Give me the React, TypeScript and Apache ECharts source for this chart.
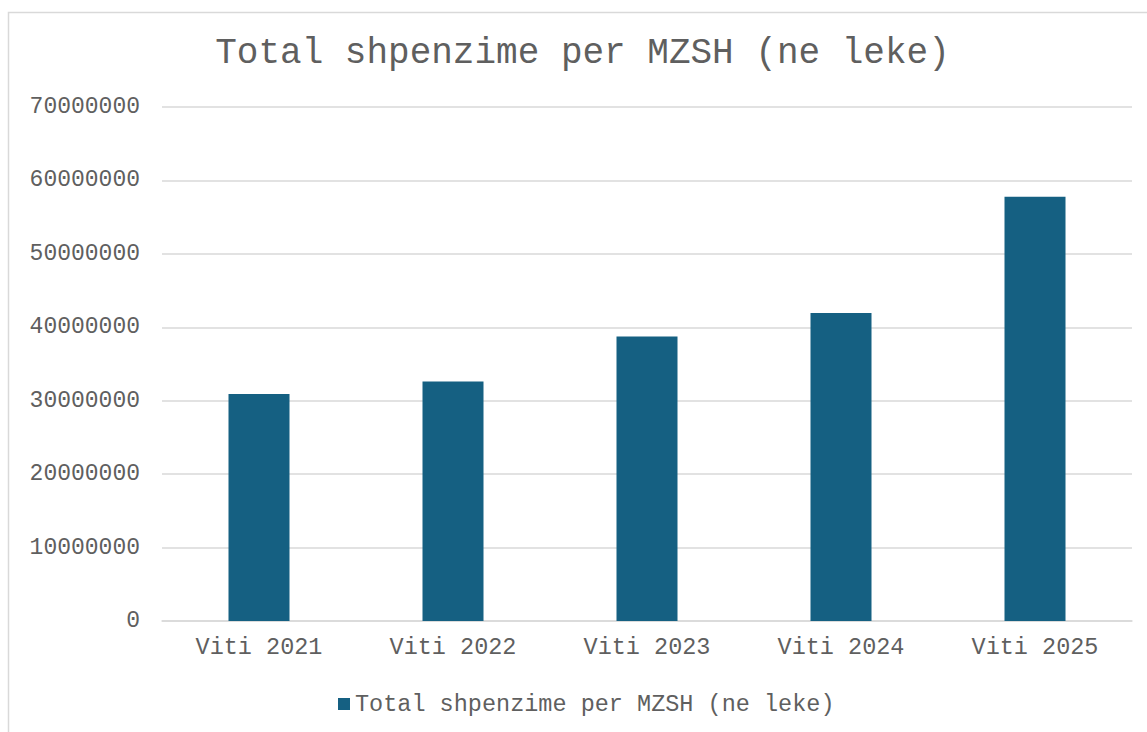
import React, { useEffect, useRef } from "react";
import * as echarts from "echarts";

const TITLE = "Total shpenzime per MZSH (ne leke)";
const SERIES_NAME = "Total shpenzime per MZSH (ne leke)";
const categories = ["Viti 2021", "Viti 2022", "Viti 2023", "Viti 2024", "Viti 2025"];
const values = [30900000, 32600000, 38730000, 41950000, 57770000];
const yTicks = { min: 0, max: 70000000, interval: 10000000 };

const FONT = "'Liberation Mono', 'DejaVu Sans Mono', monospace";
const TEXT = "#5f5f5f";
const GRID = "#d9d9d9";
const BAR = "#156082";

export default function App() {
  const ref = useRef<HTMLDivElement>(null);
  useEffect(() => {
    if (!ref.current) return;
    const chart = echarts.init(ref.current, undefined, { renderer: "svg" });
    chart.setOption({
      animation: false,
      backgroundColor: "#ffffff",
      textStyle: { fontFamily: FONT },
      graphic: [
        {
          type: "rect",
          shape: { x: 8.5, y: 12.5, width: 1300, height: 900 },
          style: { fill: "none", stroke: GRID, lineWidth: 1.5 },
          silent: true,
          z: -10,
        },
        {
          type: "text",
          x: 582.5,
          y: 53,
          style: {
            text: TITLE,
            font: `36px ${FONT}`,
            fill: TEXT,
            align: "center",
            verticalAlign: "middle",
          },
        },
      ],
      grid: { left: 162, right: 15, top: 107, bottom: 111, containLabel: false },
      legend: {
        data: [SERIES_NAME],
        left: 333,
        top: 687,
        itemWidth: 12,
        itemHeight: 12,
        icon: "rect",
        textStyle: { fontFamily: FONT, fontSize: 23.5, color: TEXT },
      },
      xAxis: {
        type: "category",
        data: categories,
        axisLine: { show: true, lineStyle: { color: GRID, width: 1.5 } },
        axisTick: { show: false },
        axisLabel: { color: TEXT, fontFamily: FONT, fontSize: 23.5, margin: 14 },
      },
      yAxis: {
        type: "value",
        min: yTicks.min,
        max: yTicks.max,
        interval: yTicks.interval,
        axisLine: { show: false },
        axisTick: { show: false },
        splitLine: { lineStyle: { color: GRID, width: 1.5 } },
        axisLabel: {
          color: TEXT,
          fontFamily: FONT,
          fontSize: 23,
          margin: 22,
          formatter: (v: number) => String(v),
        },
      },
      series: [
        {
          name: SERIES_NAME,
          type: "bar",
          data: values,
          barWidth: 61,
          itemStyle: { color: BAR },
        },
      ],
    });
    return () => chart.dispose();
  }, []);
  return (
    <div
      ref={ref}
      style={{ position: "absolute", left: 0, top: 0, width: 1147, height: 732 }}
    />
  );
}
